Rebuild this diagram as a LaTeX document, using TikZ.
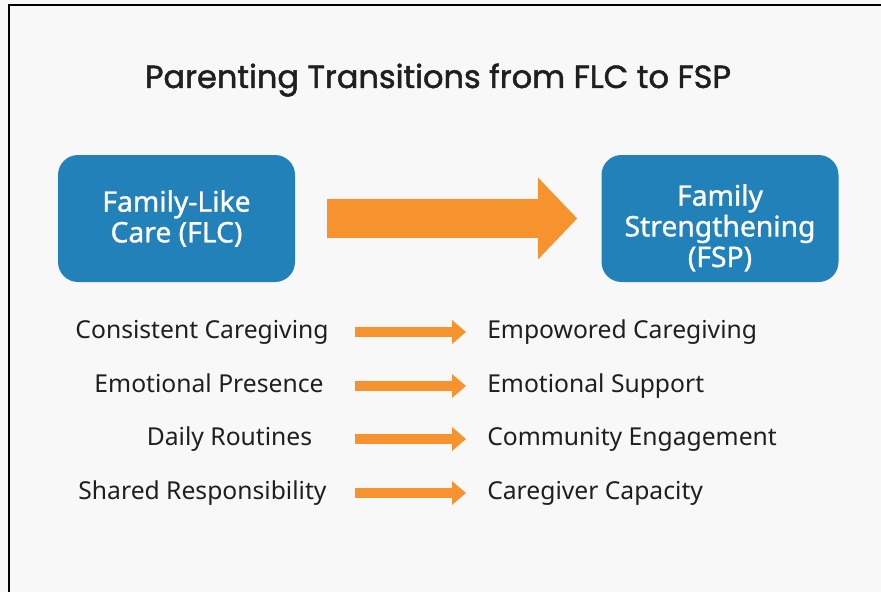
\documentclass[tikz,border=0pt]{standalone}
\usepackage{fontspec}
\setmainfont{Noto Sans}
\newfontfamily\titlefont{Poppins}[FakeBold=1.5]
\newfontfamily\boxfont{Noto Sans}[FakeBold=1.1]
\usetikzlibrary{arrows.meta}
\definecolor{bgcol}{HTML}{F9F8F8}
\definecolor{boxblue}{HTML}{2381BA}
\definecolor{arrorange}{HTML}{F7932F}
\definecolor{ink}{HTML}{1F1F1F}
\begin{document}
\begin{tikzpicture}[x=0.75pt,y=-0.75pt,
	mainbox/.style={fill=boxblue,rounded corners=15pt,minimum width=177.75pt,minimum height=95.25pt},
	boxtext/.style={text=white,align=center,font=\boxfont\fontsize{21.2}{23}\selectfont},
	item/.style={text=ink,inner sep=0pt,font=\fontsize{18.5}{22}\selectfont},
	bigarrow/.style={arrorange,line width=29.25pt,-{Triangle[length=29.25pt,width=59.25pt]},
		shorten <=24pt,shorten >=18pt},
	smallarrow/.style={arrorange,line width=7.5pt,-{Triangle[length=10.5pt,width=17.25pt]}}]
	\useasboundingbox (0,0) rectangle (881,592);
	\fill[bgcol] (0,0) rectangle (881,592);
	\draw[black,line width=1.5pt] (9,592) -- (9,5) -- (881,5);
	% title
	\node[anchor=base,text=ink,font=\titlefont\fontsize{24}{28}\selectfont] (title) at (438,88)
		{Parenting Transitions from FLC to FSP};
	% the two main boxes
	\node[mainbox] (flc) at (176.5,218.5) {};
	\node[boxtext] (flctext) at (flc.center) {Family-Like\\Care (FLC)};
	\node[mainbox] (fsp) at (720,218.5) {};
	\node[boxtext,yshift=-7pt] (fsptext) at (fsp.center) {Family\\Strengthening\\(FSP)};
	\draw[bigarrow] (flc.east) -- (fsp.west);
	% left column
	\node[item,anchor=base] (l1) at (202,338) {Consistent Caregiving};
	\node[item,anchor=base] (l2) at (209,392) {Emotional Presence};
	\node[item,anchor=base] (l3) at (229.5,445) {Daily Routines};
	\node[item,anchor=base] (l4) at (202.5,499) {Shared Responsibility};
	% right column
	\node[item,anchor=base west] (r1) at (487,338) {Empowored Caregiving};
	\node[item,anchor=base west] (r2) at (487,392) {Emotional Support};
	\node[item,anchor=base west] (r3) at (487,445) {Community Engagement};
	\node[item,anchor=base west] (r4) at (487,499) {Caregiver Capacity};
	% arrows
	\coordinate (a1) at (355,332);
	\coordinate (a2) at (355,386);
	\coordinate (a3) at (355,439);
	\coordinate (a4) at (355,493);
	\draw[smallarrow,shorten >=15.75pt] (a1) -- (a1 -| r1.west);
	\draw[smallarrow,shorten >=15.75pt] (a2) -- (a2 -| r2.west);
	\draw[smallarrow,shorten >=15.75pt] (a3) -- (a3 -| r3.west);
	\draw[smallarrow,shorten >=15.75pt] (a4) -- (a4 -| r4.west);
\end{tikzpicture}
\end{document}
